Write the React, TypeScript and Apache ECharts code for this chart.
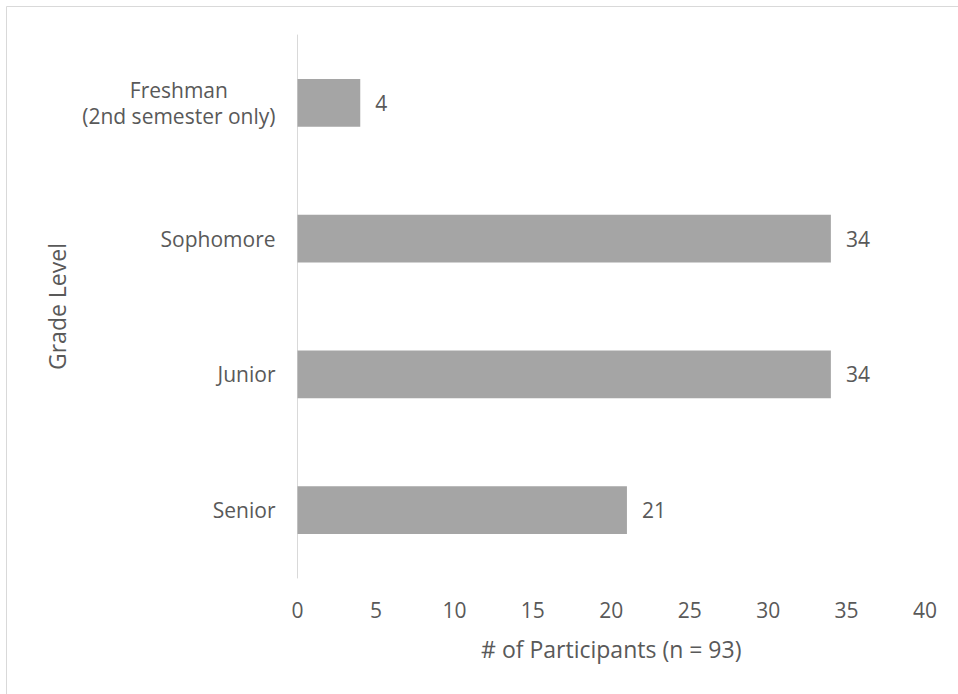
import React, { useEffect, useRef } from "react";
import * as echarts from "echarts";

const categories: string[] = [
  "Freshman\n(2nd semester only)",
  "Sophomore",
  "Junior",
  "Senior",
];
const participants: number[] = [4, 34, 34, 21];
const xTicks = { min: 0, max: 40, interval: 5 };

const TEXT = "#595959";
const FONT = "Open Sans";
const SIZE = 21;
const TITLE_SIZE = 23;

export default function App() {
  const ref = useRef<HTMLDivElement>(null);

  useEffect(() => {
    if (!ref.current) return;
    const chart = echarts.init(ref.current, undefined, { renderer: "svg" });
    chart.setOption({
      animation: false,
      backgroundColor: "#ffffff",
      textStyle: { fontFamily: FONT, color: TEXT },
      graphic: [
        {
          type: "rect",
          shape: { x: 6.5, y: 6.5, width: 1000, height: 1000 },
          style: { fill: "none", stroke: "#d9d9d9", lineWidth: 1 },
          silent: true,
        },
      ],
      grid: { left: 297.5, right: 33, top: 35, bottom: 116 },
      xAxis: {
        type: "value",
        min: xTicks.min,
        max: xTicks.max,
        interval: xTicks.interval,
        name: "# of Participants (n = 93)",
        nameLocation: "middle",
        nameGap: 59,
        nameTextStyle: { fontFamily: FONT, fontSize: TITLE_SIZE, color: TEXT },
        axisLine: { show: false },
        axisTick: { show: false },
        splitLine: { show: false },
        axisLabel: {
          fontFamily: FONT,
          fontSize: SIZE,
          color: TEXT,
          margin: 21,
        },
      },
      yAxis: {
        type: "category",
        inverse: true,
        data: categories,
        name: "Grade Level",
        nameLocation: "middle",
        nameGap: 229,
        nameRotate: 90,
        nameTextStyle: { fontFamily: FONT, fontSize: TITLE_SIZE, color: TEXT },
        axisLine: { show: true, lineStyle: { color: "#d9d9d9", width: 1 } },
        axisTick: { show: false },
        axisLabel: {
          margin: 22,
          align: "right",
          formatter: (v: string) =>
            v
              .split("\n")
              .map((line) => `{c|${line}}`)
              .join("\n"),
          rich: {
            c: {
              align: "center",
              fontFamily: FONT,
              fontSize: SIZE,
              color: TEXT,
              lineHeight: 26,
            },
          },
        },
      },
      series: [
        {
          type: "bar",
          data: participants,
          barWidth: "35%",
          itemStyle: { color: "#a5a5a5" },
          label: {
            show: true,
            position: "right",
            distance: 15,
            fontFamily: FONT,
            fontSize: SIZE,
            color: TEXT,
          },
        },
      ],
    });
    return () => chart.dispose();
  }, []);

  return (
    <div
      ref={ref}
      style={{ position: "fixed", left: 0, top: 0, width: 958, height: 694 }}
    />
  );
}
